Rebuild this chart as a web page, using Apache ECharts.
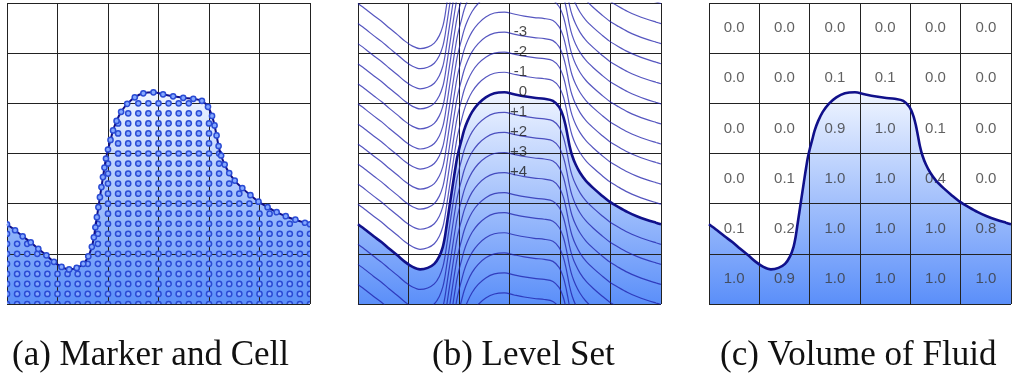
<!DOCTYPE html>
<html>
<head>
<meta charset="utf-8">
<script src="https://cdn.jsdelivr.net/npm/echarts@6/dist/echarts.min.js"></script>
<style>
  html, body { margin: 0; padding: 0; background: #fff; }
  #main { width: 1013px; height: 379px; }
</style>
</head>
<body>
<div id="main"></div>
<script>
// free surface, in cell units (x to the right, y up), one point per surface marker
var interfacePts = [
  [0.00,1.59],[0.16,1.47],[0.31,1.35],[0.47,1.23],[0.62,1.10],[0.78,0.97],[0.93,0.84],
  [1.08,0.74],[1.23,0.69],[1.38,0.72],[1.51,0.80],[1.61,0.95],[1.68,1.14],[1.72,1.33],
  [1.75,1.53],[1.78,1.73],[1.81,1.93],[1.84,2.13],[1.87,2.33],[1.90,2.53],[1.93,2.72],
  [1.96,2.90],[2.00,3.08],[2.05,3.27],[2.10,3.46],[2.17,3.65],[2.26,3.83],[2.38,3.99],
  [2.53,4.12],[2.70,4.20],[2.90,4.22],[3.09,4.18],[3.29,4.14],[3.49,4.11],[3.69,4.09],
  [3.86,4.05],[3.98,3.93],[4.06,3.75],[4.11,3.56],[4.15,3.36],[4.19,3.15],[4.24,2.96],
  [4.31,2.78],[4.40,2.61],[4.51,2.46],[4.66,2.31],[4.82,2.17],[4.98,2.04],[5.16,1.93],
  [5.34,1.83],[5.52,1.75],[5.71,1.68],[5.90,1.62],[6.00,1.59]
];

// (a) marker particles: number of markers in each column (columns 0.2 cell apart)
var markerStep = 0.2;
var markerCounts = [8,7,7,6,5,4,4,4,5,9,15,19,20,21,21,21,21,21,21,20,19,16,13,12,11,10,10,9,9,8,8];

// (b) level set contours
var levels = [-11,-10,-9,-8,-7,-6,-5,-4,-3,-2,-1,1,2,3,4,5,6,7,8,9,10];
var levelGap = 0.4;
var labelLevels = [-3,-2,-1,0,1,2,3,4];
var labelTexts = ['-3','-2','-1','0','+1','+2','+3','+4'];
var labelPointIndex = 32;

// (c) volume fractions, top row first
var vofRows = [
  [0.0,0.0,0.0,0.0,0.0,0.0],
  [0.0,0.0,0.1,0.1,0.0,0.0],
  [0.0,0.0,0.9,1.0,0.1,0.0],
  [0.0,0.1,1.0,1.0,0.4,0.0],
  [0.1,0.2,1.0,1.0,1.0,0.8],
  [1.0,0.9,1.0,1.0,1.0,1.0]
];

var captions = ['(a) Marker and Cell', '(b) Level Set', '(c) Volume of Fluid'];
var captionLeft = [12, 432, 720];

var chart = echarts.init(document.getElementById('main'));

var navy = '#10108a';
var fillGrad = new echarts.graphic.LinearGradient(0, 0, 0, 1, [
  { offset: 0, color: '#f0f5ff' },
  { offset: 1, color: '#5b8ff9' }
]);

var grids = [
  { left: 7, top: 3, width: 303, height: 301 },
  { left: 358, top: 3, width: 303, height: 301 },
  { left: 709, top: 3, width: 302, height: 301 }
];

function axis(i) {
  return {
    gridIndex: i, type: 'value', min: 0, max: 6, interval: 1, z: 2,
    axisLine: { show: false }, axisTick: { show: false }, axisLabel: { show: false },
    splitLine: { show: true, lineStyle: { color: '#222', width: 1 } }
  };
}

function fillSeries(i) {
  return {
    type: 'line', xAxisIndex: i, yAxisIndex: i, z: 1, smooth: 0.3,
    data: interfacePts, showSymbol: false, silent: true,
    lineStyle: { width: 0 }, areaStyle: { color: fillGrad, opacity: 1 }
  };
}

// marker dots clipped to the panel, like the half dots on the edges
function dotSeries(data, z) {
  return {
    type: 'custom', xAxisIndex: 0, yAxisIndex: 0, z: z, clip: true, data: data,
    renderItem: function (params, api) {
      var p = api.coord([api.value(0), api.value(1)]);
      return {
        type: 'circle', shape: { cx: p[0], cy: p[1], r: 2.6 },
        style: { fill: '#84a8ff', stroke: '#2a4bd4', lineWidth: 1.5 }
      };
    }
  };
}

var series = [];

// (a)
series.push(fillSeries(0));
var markers = [];
markerCounts.forEach(function (n, i) {
  for (var j = 0; j < n; j++) markers.push([i * markerStep, j * markerStep]);
});
series.push(dotSeries(markers, 3));
series.push({
  type: 'line', xAxisIndex: 0, yAxisIndex: 0, z: 4, smooth: 0.3, data: interfacePts,
  showSymbol: false, lineStyle: { color: navy, width: 2 }
});
series.push(dotSeries(interfacePts, 5));

// (b)
series.push(fillSeries(1));
levels.forEach(function (lv) {
  series.push({
    type: 'line', xAxisIndex: 1, yAxisIndex: 1, z: 3, smooth: 0.3, showSymbol: false,
    data: interfacePts.map(function (p) { return [p[0], p[1] - lv * levelGap]; }),
    lineStyle: { color: 'rgba(30,30,170,0.75)', width: 1.2 }
  });
});
series.push({
  type: 'line', xAxisIndex: 1, yAxisIndex: 1, z: 4, smooth: 0.3, showSymbol: false,
  data: interfacePts, lineStyle: { color: navy, width: 2.6 }
});
var anchor = interfacePts[labelPointIndex];
series.push({
  type: 'scatter', xAxisIndex: 1, yAxisIndex: 1, z: 5, symbolSize: 0,
  data: labelLevels.map(function (lv, k) {
    return { value: [anchor[0], anchor[1] - lv * levelGap], name: labelTexts[k] };
  }),
  label: {
    show: true, position: 'top', align: 'right', offset: [3, 8],
    formatter: '{b}', fontFamily: 'Liberation Sans', fontSize: 15, color: '#1a1a1a'
  }
});

// (c)
series.push(fillSeries(2));
series.push({
  type: 'line', xAxisIndex: 2, yAxisIndex: 2, z: 4, smooth: 0.3, showSymbol: false,
  data: interfacePts, lineStyle: { color: navy, width: 2.6 }
});
var cells = [];
vofRows.forEach(function (row, r) {
  row.forEach(function (v, c) { cells.push([c + 0.5, 5.5 - r, v]); });
});
series.push({
  type: 'scatter', xAxisIndex: 2, yAxisIndex: 2, z: 3, symbolSize: 1,
  itemStyle: { color: 'rgba(0,0,0,0)' }, data: cells,
  label: {
    show: true, position: 'inside', fontFamily: 'Liberation Sans', fontSize: 15, color: '#3a3a3a',
    formatter: function (p) { return p.value[2].toFixed(1); }
  }
});

chart.setOption({
  animation: false,
  title: captions.map(function (t, i) {
    return {
      text: t, left: captionLeft[i], top: 338, padding: 0,
      textStyle: { fontFamily: 'Liberation Serif', fontSize: 35, fontWeight: 'normal', color: '#111' }
    };
  }),
  grid: grids,
  xAxis: [axis(0), axis(1), axis(2)],
  yAxis: [axis(0), axis(1), axis(2)],
  series: series
});
</script>
</body>
</html>
